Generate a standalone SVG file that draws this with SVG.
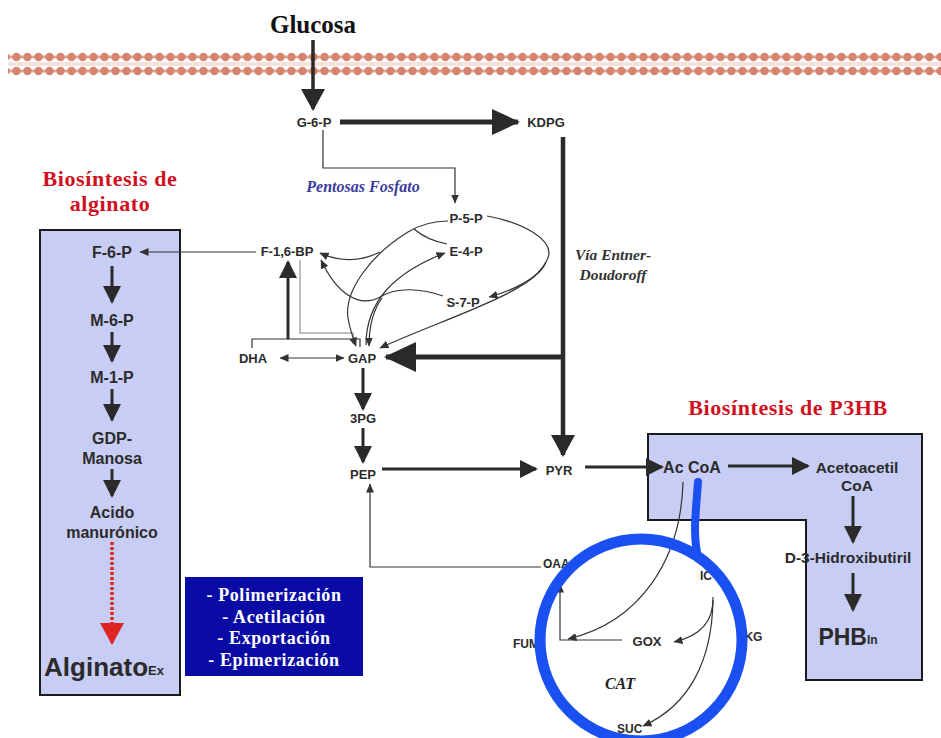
<svg xmlns="http://www.w3.org/2000/svg" width="941" height="738" viewBox="0 0 941 738">
<style>
.lbl{font-family:"Liberation Sans",Arial,sans-serif;font-weight:bold;fill:#2b2b2b;text-anchor:middle;dominant-baseline:central}
.s11{font-size:12px}.s13{font-size:13px}.s14{font-size:16px}.s15{font-size:15.5px}
.ser{font-family:"Liberation Serif","Times New Roman",serif;font-weight:bold;text-anchor:middle;dominant-baseline:central}
.red{fill:#d0101e;font-size:22px;letter-spacing:0.6px}
.wht{fill:#ffffff;font-size:18px;letter-spacing:0.6px}
.it{font-style:italic}
.thick{stroke:#2a2a2a;fill:none}
.thin{stroke:#333;stroke-width:1.2;fill:none}
.box{fill:#c8cdf5;stroke:#1a1a1a;stroke-width:2}
.st{text-anchor:start}
</style>
<defs>
<pattern id="dots" x="0" y="50" width="11" height="14" patternUnits="userSpaceOnUse">
<circle cx="5.5" cy="7" r="4.2" fill="#d4846f"/>
</pattern>
<marker id="ahS" viewBox="0 0 9 8" markerWidth="9" markerHeight="8" refX="8.5" refY="4" orient="auto-start-reverse" markerUnits="userSpaceOnUse"><path d="M0,0 L9,4 L0,8z" fill="#333"/></marker>
<marker id="ahT" viewBox="0 0 18 18" markerWidth="18" markerHeight="18" refX="16" refY="9" orient="auto" markerUnits="userSpaceOnUse"><path d="M0,0 L18,9 L0,18z" fill="#2a2a2a"/></marker>
<marker id="ahM" viewBox="0 0 22 24" markerWidth="22" markerHeight="24" refX="20" refY="12" orient="auto" markerUnits="userSpaceOnUse"><path d="M0,0 L22,12 L0,24z" fill="#2a2a2a"/></marker>
<marker id="ahL" viewBox="0 0 28 26" markerWidth="28" markerHeight="26" refX="26" refY="13" orient="auto" markerUnits="userSpaceOnUse"><path d="M0,0 L28,13 L0,26z" fill="#2a2a2a"/></marker>
<marker id="ahXL" viewBox="0 0 32 30" markerWidth="32" markerHeight="30" refX="30" refY="15" orient="auto" markerUnits="userSpaceOnUse"><path d="M0,0 L32,15 L0,30z" fill="#2a2a2a"/></marker>
<marker id="ahR" viewBox="0 0 22 24" markerWidth="22" markerHeight="24" refX="20" refY="12" orient="auto" markerUnits="userSpaceOnUse"><path d="M0,0 L22,12 L0,24z" fill="#e02424"/></marker>
</defs>
<rect width="941" height="738" fill="#ffffff"/>

<g id="membrane">
<line x1="8" y1="57" x2="941" y2="57" stroke="#e2a497" stroke-width="3"/>
<line x1="8" y1="71" x2="941" y2="71" stroke="#e2a497" stroke-width="3"/>
<line x1="8" y1="64" x2="941" y2="64" stroke="#f6e2dc" stroke-width="4"/>
<rect x="8" y="50" width="933" height="28" fill="url(#dots)"/>
</g>

<g id="alginate-box"><rect class="box" x="40" y="230" width="140" height="465"/></g>
<g id="p3hb-box"><path class="box" d="M648,434 L922,434 L922,680 L806,680 L806,520 L648,520 Z"/></g>
<g id="processing-box">
<rect x="185" y="577" width="178" height="99" fill="#0a0aa5"/>
<text class="ser wht" x="274" y="595">- Polimerización</text>
<text class="ser wht" x="274" y="617">- Acetilación</text>
<text class="ser wht" x="274" y="638">- Exportación</text>
<text class="ser wht" x="274" y="660">- Epimerización</text>
</g>

<g id="connectors">
<line class="thick" x1="313" y1="40" x2="313" y2="109" stroke-width="3.5" marker-end="url(#ahM)"/>
<line class="thick" x1="340" y1="122" x2="518" y2="122" stroke-width="5" marker-end="url(#ahL)"/>
<polyline class="thin" points="323,130 323,168 455,168 455,203" stroke-width="1" marker-end="url(#ahS)"/>
<line class="thick" x1="563" y1="137" x2="563" y2="455" stroke-width="4.5" marker-end="url(#ahM)"/>
<line class="thick" x1="563" y1="357" x2="386" y2="357" stroke-width="5" marker-end="url(#ahXL)"/>
<line class="thin" x1="256" y1="252" x2="140" y2="252" marker-end="url(#ahS)"/>
<line class="thin" x1="280" y1="358" x2="344" y2="358" marker-start="url(#ahS)" marker-end="url(#ahS)"/>
<polyline class="thin" points="252,348 252,339 360,339 360,347" stroke-width="1"/>
<line class="thick" x1="288" y1="339" x2="288" y2="262" stroke-width="3" marker-end="url(#ahT)"/>
<polyline points="300,260 300,333 353,333 353,344" fill="none" stroke="#a8a8a8" stroke-width="1.5"/>
<path class="thin" d="M448,221 C430,221 418,226 408,232 C372,254 344,290 348,318 C350,330 353,338 356,346" marker-end="url(#ahS)"/>
<path class="thin" d="M447,244 C432,241 422,236 414,229"/>
<path class="thin" d="M380,252 C360,262 340,262 320,253" marker-end="url(#ahS)"/>
<path class="thin" d="M443,296 C420,288 396,287 380,297 C358,309 336,292 321,260" marker-end="url(#ahS)"/>
<path class="thin" d="M382,298 C372,312 369,330 369,346" marker-end="url(#ahS)"/>
<path class="thin" d="M366,345 C366,300 396,272 445,253" marker-end="url(#ahS)"/>
<path class="thin" d="M487,216 C520,222 560,240 546,262 C538,278 515,290 489,297" marker-end="url(#ahS)"/>
<path class="thin" d="M546,262 C535,292 440,320 380,348" marker-end="url(#ahS)"/>
<line class="thick" x1="363" y1="368" x2="363" y2="409" stroke-width="3" marker-end="url(#ahT)"/>
<line class="thick" x1="363" y1="428" x2="363" y2="462" stroke-width="3" marker-end="url(#ahT)"/>
<line class="thick" x1="382" y1="469" x2="536" y2="469" stroke-width="3" marker-end="url(#ahT)"/>
<line class="thick" x1="585" y1="467" x2="662" y2="467" stroke-width="3" marker-end="url(#ahT)"/>
<line class="thick" x1="728" y1="466" x2="808" y2="466" stroke-width="3" marker-end="url(#ahT)"/>
<line class="thick" x1="853" y1="496" x2="853" y2="542" stroke-width="3" marker-end="url(#ahT)"/>
<line class="thick" x1="853" y1="573" x2="853" y2="610" stroke-width="3" marker-end="url(#ahT)"/>
<line class="thick" x1="112" y1="266" x2="112" y2="302" stroke-width="3" marker-end="url(#ahT)"/>
<line class="thick" x1="112" y1="332" x2="112" y2="361" stroke-width="3" marker-end="url(#ahT)"/>
<line class="thick" x1="112" y1="389" x2="112" y2="420" stroke-width="3" marker-end="url(#ahT)"/>
<line class="thick" x1="112" y1="469" x2="112" y2="496" stroke-width="3" marker-end="url(#ahT)"/>
<line x1="112" y1="542" x2="112" y2="643" stroke="#e02424" stroke-width="3.5" stroke-dasharray="3,2" marker-end="url(#ahR)"/>
<polyline class="thin" points="541,567 370,567 370,484" marker-end="url(#ahS)"/>
<path class="thin" d="M683,482 C681,560 640,622 568,639" marker-end="url(#ahS)"/>
<polyline class="thin" points="622,640 560,640 560,584" marker-end="url(#ahS)"/>
<path class="thin" d="M713,597 C714,622 700,636 674,642" marker-end="url(#ahS)"/>
<path class="thin" d="M713,600 C712,660 690,705 643,726" marker-end="url(#ahS)"/>
</g>

<g id="title-glucosa"><text class="ser" x="313" y="24" font-size="25" fill="#111">Glucosa</text></g>
<g id="title-alginato"><text class="ser red" x="110" y="178">Biosíntesis de</text><text class="ser red" x="110" y="203">alginato</text></g>
<g id="title-p3hb"><text class="ser red" x="788" y="407">Biosíntesis de P3HB</text></g>
<g id="label-pentosas"><text class="ser it" x="363" y="186" font-size="16" fill="#3b3b9b">Pentosas Fosfato</text></g>
<g id="label-ed"><text class="ser it" x="613" y="254" font-size="15.5" fill="#333">Vía Entner-</text><text class="ser it" x="613" y="274" font-size="15.5" fill="#333">Doudoroff</text></g>

<g id="G6P"><text class="lbl s13" x="314" y="122">G-6-P</text></g>
<g id="KDPG"><text class="lbl s13" x="546" y="122">KDPG</text></g>
<g id="P5P"><text class="lbl s13" x="466" y="218">P-5-P</text></g>
<g id="E4P"><text class="lbl s13" x="466" y="251">E-4-P</text></g>
<g id="S7P"><text class="lbl s13" x="463" y="302">S-7-P</text></g>
<g id="F16BP"><text class="lbl s13" x="287" y="251">F-1,6-BP</text></g>
<g id="DHA"><text class="lbl s13" x="253" y="358">DHA</text></g>
<g id="GAP"><text class="lbl s13" x="362" y="358">GAP</text></g>
<g id="PG3"><text class="lbl s13" x="363" y="418">3PG</text></g>
<g id="PEP"><text class="lbl s13" x="363" y="474">PEP</text></g>
<g id="PYR"><text class="lbl s13" x="559" y="470">PYR</text></g>
<g id="AcCoA"><text class="lbl" x="692" y="467" font-size="16">Ac CoA</text></g>
<g id="Acetoacetil"><text class="lbl s15" x="857" y="467">Acetoacetil</text><text class="lbl s15" x="857" y="485">CoA</text></g>
<g id="D3H"><text class="lbl s15" x="848" y="557">D-3-Hidroxibutiril</text></g>
<g id="PHB"><text class="lbl" x="848" y="637" font-size="23">PHB<tspan font-size="12" dy="3">In</tspan></text></g>
<g id="F6P"><text class="lbl s14" x="112" y="252">F-6-P</text></g>
<g id="M6P"><text class="lbl s14" x="112" y="320">M-6-P</text></g>
<g id="M1P"><text class="lbl s14" x="112" y="377">M-1-P</text></g>
<g id="GDPManosa"><text class="lbl s14" x="112" y="438">GDP-</text><text class="lbl s14" x="112" y="458">Manosa</text></g>
<g id="AcidoManuronico"><text class="lbl s14" x="112" y="512">Acido</text><text class="lbl s14" x="112" y="532">manurónico</text></g>
<g id="Alginato"><text class="lbl" x="104" y="667" font-size="26" fill="#333">Alginato<tspan font-size="13" dy="3">Ex</tspan></text></g>
<g id="OAA"><text class="lbl s11 st" x="543" y="564">OAA</text></g>
<g id="FUM"><text class="lbl s11 st" x="513" y="644">FUM</text></g>
<g id="IC"><text class="lbl s11 st" x="700" y="576">IC</text></g>
<g id="aKG"><text class="lbl s11 st" x="737" y="637">αKG</text></g>
<g id="SUC"><text class="lbl s11 st" x="617" y="729">SUC</text></g>
<g id="GOX"><text class="lbl s13" x="647" y="641">GOX</text></g>

<g id="CAT">
<path d="M698,482 C696,510 693,532 697,552" fill="none" stroke="#1a50f2" stroke-width="8" stroke-linecap="round"/>
<circle cx="641" cy="640" r="101" fill="none" stroke="#1a50f2" stroke-width="11"/>
<text class="ser it" x="620" y="683" font-size="16" fill="#222">CAT</text>
</g>
</svg>
